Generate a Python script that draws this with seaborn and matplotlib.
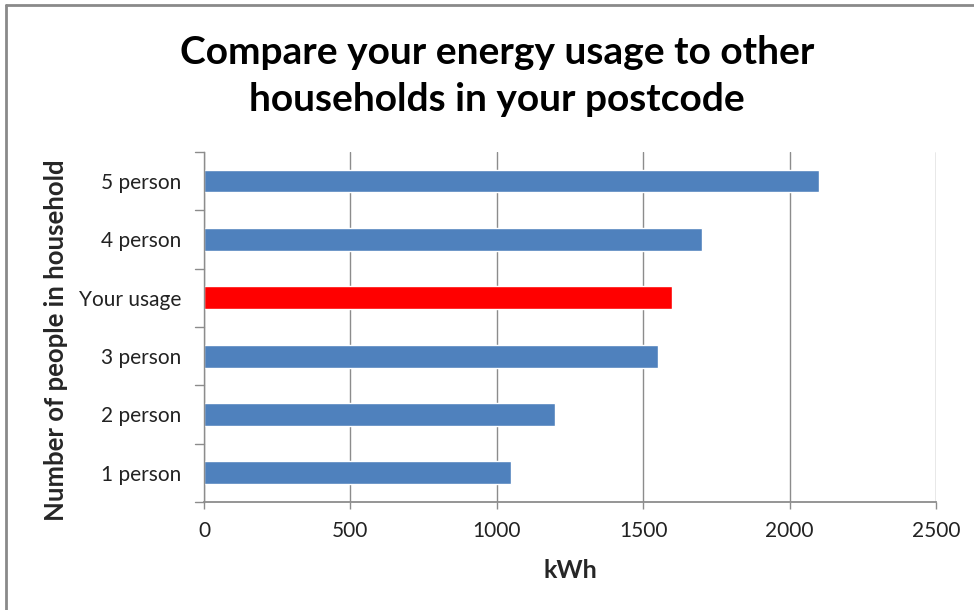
import matplotlib
matplotlib.use("Agg")
import matplotlib.pyplot as plt
from matplotlib.lines import Line2D
import seaborn as sns
import pandas as pd

# Household size categories (top to bottom) and usage in kWh
categories = ["5 person", "4 person", "Your usage", "3 person", "2 person", "1 person"]
usage_kwh = [2100, 1700, 1600, 1550, 1200, 1050]
bar_colors = ["#4F81BD", "#4F81BD", "#FF0000", "#4F81BD", "#4F81BD", "#4F81BD"]
x_ticks = [0, 500, 1000, 1500, 2000, 2500]

sns.set_theme(style="white")
plt.rcParams["font.family"] = ["Lato", "DejaVu Sans"]

df = pd.DataFrame({"category": categories, "kWh": usage_kwh})

fig = plt.figure(figsize=(9.74, 6.10), dpi=100)
ax = fig.add_axes([0.2094, 0.177, 0.7516, 0.574])

sns.barplot(data=df, y="category", x="kWh", hue="category",
            palette=dict(zip(categories, bar_colors)), legend=False,
            width=0.39, saturation=1, ax=ax, orient="h")

ax.set_xlim(0, 2500)
ax.set_ylim(len(categories) - 0.5, -0.5)
ax.set_xticks(x_ticks)
ax.set_xticklabels([str(t) for t in x_ticks], fontsize=15, color="#222222")
ax.tick_params(axis="y", labelsize=15, labelcolor="#222222", length=0, pad=16)
ax.tick_params(axis="x", length=5, width=1, color="#8c8c8c", direction="out", pad=9,
               bottom=True)

# Vertical gridlines behind the bars
ax.set_axisbelow(True)
ax.xaxis.grid(True, color="#8c8c8c", linewidth=1)
ax.yaxis.grid(False)

for side in ["top", "right"]:
    ax.spines[side].set_visible(False)
ax.spines["left"].set_color("#8c8c8c")
ax.spines["bottom"].set_color("#8c8c8c")
ax.spines["left"].set_linewidth(1)
ax.spines["bottom"].set_linewidth(1.3)

# Category boundary ticks on the left side of the axis
for b in [i - 0.5 for i in range(len(categories) + 1)]:
    ax.plot([-0.012, 0], [b, b], transform=ax.get_yaxis_transform(),
            color="#8c8c8c", linewidth=1, clip_on=False)

ax.set_xlabel("kWh", fontsize=18, fontweight="bold")
ax.xaxis.set_label_coords(0.5, -0.163)
ax.set_ylabel("Number of people in household", fontsize=18.5, fontweight="bold")
ax.yaxis.set_label_coords(-0.186, 0.463)

fig.text(0.51, 0.875, "Compare your energy usage to other\nhouseholds in your postcode",
         ha="center", va="center", fontsize=28, fontweight="bold",
         linespacing=1.42, color="black")

# Frame lines along the left and top edges of the figure
fig.add_artist(Line2D([0.0057, 0.0057], [0, 0.992], transform=fig.transFigure,
                      color="#8a8a8a", linewidth=2))
fig.add_artist(Line2D([0.0057, 1.0], [0.992, 0.992], transform=fig.transFigure,
                      color="#8a8a8a", linewidth=2))

fig.savefig("out.png", dpi=100, facecolor="white")
